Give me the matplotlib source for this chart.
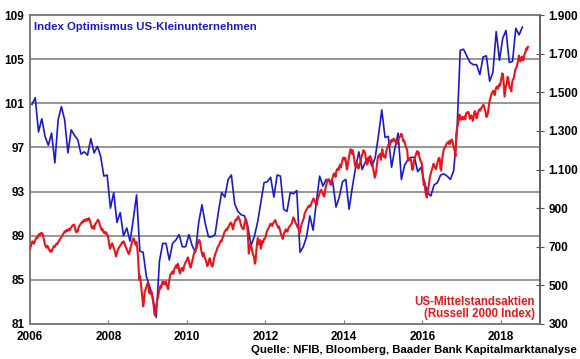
import numpy as np
import matplotlib
matplotlib.use("Agg")
import matplotlib.pyplot as plt
from matplotlib.ticker import FuncFormatter

plt.rcParams['font.family'] = ['Liberation Sans', 'DejaVu Sans']

# NFIB Index Optimismus (monthly, Jan 2006 - Jul 2018)
nfib_2006_2010 = [100.9, 101.5, 98.4, 99.6, 98.0, 97.2, 98.3, 95.6, 99.5, 100.7, 99.5, 96.5,
                  98.6, 98.1, 97.7, 96.4, 96.6, 96.3, 97.8, 96.5, 97.1, 96.2, 94.4, 94.5,
                  91.5, 92.9, 90.2, 91.1, 89.0, 89.7, 88.5, 90.5, 92.7, 87.6, 87.5, 85.3,
                  84.4, 83.4, 81.6, 86.7, 88.3, 88.3, 86.8, 88.3, 88.6, 89.1, 88.0, 88.0,
                  89.1, 88.1, 87.5, 90.2, 91.8, 90.1, 88.9, 88.9, 89.1, 91.1, 92.9, 92.5]
nfib_2011_2018 = [94.1, 94.5, 91.9, 91.2, 90.9, 90.8, 89.9, 88.1, 88.9, 90.2, 92.0, 93.8,
                  93.9, 94.3, 92.5, 94.5, 94.4, 91.4, 91.2, 92.9, 92.8, 93.1, 87.5, 88.0,
                  88.9, 90.8, 89.5, 92.1, 94.4, 93.5, 94.1, 94.0, 93.9, 91.6, 92.5, 93.9,
                  94.1, 91.4, 93.4, 95.2, 96.6, 95.0, 95.7, 96.1, 95.3, 96.1, 98.1, 100.4,
                  97.9, 98.0, 95.2, 96.9, 98.3, 94.1, 95.4, 95.9, 96.1, 96.1, 94.8, 95.2,
                  93.9, 92.9, 92.6, 93.6, 93.8, 94.5, 94.6, 94.4, 94.1, 94.9, 98.4, 105.8,
                  105.9, 105.3, 104.7, 104.5, 104.5, 103.6, 105.2, 105.3, 103.0, 103.8, 107.5, 104.9,
                  106.9, 107.6, 104.7, 104.8, 107.8, 107.2, 107.9]
nfib = nfib_2006_2010 + nfib_2011_2018

# Russell 2000 (weekly)
r2006 = [690, 702, 715, 728, 722, 716, 724, 735, 742, 750, 746, 758, 765, 760, 768, 772, 770, 762, 745, 728,
         710, 702, 695, 705, 698, 688, 680, 674, 682, 676, 690, 698, 704, 700, 710, 716, 712, 722, 728, 734,
         740, 746, 752, 760, 768, 772, 780, 776, 784, 788, 782, 790]
r2007 = [792, 786, 798, 802, 808, 812, 815, 810, 790, 776, 782, 778, 795, 805, 812, 818, 822, 830, 826, 835,
         840, 832, 838, 844, 836, 842, 848, 840, 825, 812, 796, 800, 806, 792, 812, 820, 826, 832, 840, 836,
         822, 808, 798, 786, 792, 780, 772, 778, 768, 774, 762, 760]
r2008 = [740, 712, 690, 698, 712, 718, 706, 694, 684, 668, 650, 662, 680, 688, 696, 702, 708, 714, 722, 718,
         728, 720, 708, 698, 690, 680, 670, 662, 672, 690, 705, 720, 735, 744, 738, 722, 710, 725, 700, 660,
         585, 528, 548, 510, 470, 432, 392, 415, 470, 476, 490, 500]
r2009 = [512, 498, 462, 470, 455, 468, 440, 420, 392, 350, 345, 390, 410, 428, 445, 470, 480, 498, 488, 512,
         520, 505, 515, 508, 520, 498, 492, 480, 510, 535, 555, 560, 565, 572, 560, 580, 590, 598, 605, 590,
         612, 598, 570, 562, 580, 590, 588, 575, 595, 608, 618, 625]
r2010 = [632, 645, 640, 618, 600, 592, 610, 625, 640, 660, 672, 680, 688, 695, 712, 725, 735, 730, 712, 680,
         665, 650, 668, 655, 640, 632, 615, 600, 608, 625, 640, 632, 612, 600, 598, 620, 640, 655, 668, 675,
         690, 700, 705, 712, 725, 732, 728, 745, 752, 768, 778, 783]
r2011 = [790, 785, 798, 800, 812, 818, 825, 822, 805, 790, 808, 825, 835, 842, 838, 850, 858, 848, 840, 822,
         808, 800, 795, 790, 812, 828, 845, 832, 800, 745, 665, 690, 712, 705, 690, 670, 655, 648, 612, 625,
         680, 720, 745, 712, 725, 735, 690, 705, 730, 722, 740, 740]
r2012 = [748, 765, 778, 790, 795, 802, 815, 820, 812, 808, 818, 826, 832, 838, 828, 815, 808, 798, 805, 790,
         775, 762, 752, 740, 758, 772, 780, 790, 785, 778, 788, 800, 805, 810, 815, 822, 838, 852, 845, 835,
         822, 818, 805, 810, 790, 772, 778, 800, 818, 828, 838, 849]
r2013 = [872, 880, 888, 896, 902, 910, 905, 915, 912, 925, 935, 945, 950, 940, 930, 925, 915, 940, 955, 965,
         980, 990, 995, 985, 975, 968, 960, 985, 1010, 1025, 1038, 1045, 1050, 1040, 1025, 1020, 1040, 1058, 1070, 1080,
         1075, 1062, 1090, 1100, 1105, 1098, 1115, 1125, 1110, 1130, 1145, 1160]
r2014 = [1162, 1150, 1160, 1128, 1100, 1120, 1145, 1168, 1190, 1205, 1195, 1180, 1200, 1175, 1145, 1120, 1112, 1135, 1130, 1105,
         1110, 1125, 1140, 1160, 1172, 1185, 1200, 1192, 1190, 1160, 1142, 1125, 1140, 1158, 1165, 1170, 1160, 1145, 1120, 1102,
         1080, 1058, 1070, 1095, 1130, 1160, 1172, 1168, 1180, 1150, 1185, 1205]
r2015 = [1178, 1165, 1172, 1160, 1190, 1205, 1215, 1228, 1232, 1225, 1240, 1252, 1245, 1255, 1260, 1248, 1252, 1240, 1232, 1248,
         1255, 1262, 1270, 1275, 1285, 1280, 1260, 1245, 1250, 1235, 1220, 1212, 1200, 1145, 1158, 1160, 1148, 1152, 1120, 1098,
         1110, 1145, 1160, 1172, 1185, 1195, 1180, 1190, 1165, 1155, 1140, 1136]
r2016 = [1110, 1050, 1020, 1035, 990, 968, 955, 985, 1005, 1030, 1060, 1075, 1090, 1105, 1115, 1130, 1118, 1110, 1102, 1115,
         1135, 1150, 1160, 1158, 1105, 1095, 1140, 1170, 1195, 1210, 1215, 1222, 1232, 1238, 1240, 1245, 1230, 1250, 1242, 1255,
         1248, 1225, 1212, 1195, 1168, 1285, 1315, 1330, 1350, 1385, 1375, 1357]
r2017 = [1365, 1372, 1360, 1368, 1375, 1360, 1388, 1395, 1392, 1398, 1385, 1362, 1372, 1380, 1368, 1352, 1372, 1398, 1402, 1385,
         1365, 1380, 1395, 1408, 1412, 1405, 1418, 1422, 1428, 1435, 1425, 1410, 1395, 1372, 1380, 1392, 1425, 1450, 1465, 1478,
         1495, 1502, 1508, 1498, 1485, 1510, 1525, 1530, 1518, 1528, 1540, 1535]
r2018 = [1555, 1575, 1598, 1590, 1540, 1478, 1505, 1535, 1548, 1580, 1572, 1540, 1520, 1528, 1505, 1548, 1565, 1570, 1588, 1612,
         1625, 1630, 1648, 1662, 1690, 1678, 1660, 1668, 1685, 1672, 1665, 1690, 1702, 1712, 1728, 1722, 1735]
russell_years = [r2006, r2007, r2008, r2009, r2010, r2011, r2012, r2013, r2014, r2015, r2016, r2017, r2018]

left_ticks = [81, 85, 89, 93, 97, 101, 105, 109]
right_ticks = [300, 500, 700, 900, 1100, 1300, 1500, 1700, 1900]
year_ticks = [2006, 2008, 2010, 2012, 2014, 2016, 2018]

# x positions (decimal years)
nfib_x = 2006 + (np.arange(len(nfib)) + 0.6) / 12
russell = []
russell_x = []
for i, vals in enumerate(russell_years):
    russell += vals
    russell_x += list(2006 + i + np.arange(len(vals)) / 52)

blue = '#1a1acc'
red = '#e8161b'
grey = '#7a7a7a'

fig = plt.figure(figsize=(5.8, 3.59), dpi=100)
ax = fig.add_axes([30 / 580, 1 - 324 / 359, 510 / 580, 309 / 359])
ax2 = ax.twinx()

ax.plot(nfib_x, nfib, color=blue, lw=1.2, zorder=3)
ax2.plot(russell_x, russell, color=red, lw=1.5, zorder=3)

ax.set_xlim(2006, 2019)
ax.set_ylim(81, 109)
ax2.set_ylim(300, 1900)

# grid lines at the left axis ticks
for v in left_ticks[1:-1]:
    ax.axhline(v, color=grey, lw=1.1, zorder=1)

ax.set_yticks(left_ticks)
ax.set_xticks(year_ticks)
ax2.set_yticks(right_ticks)
ax2.yaxis.set_major_formatter(FuncFormatter(lambda v, p: '{:,.0f}'.format(v).replace(',', '.')))

ax.tick_params(axis='y', length=0, pad=4, labelsize=8.5)
ax.tick_params(axis='x', direction='in', length=3, color=grey, pad=5, labelsize=8.5)
ax2.tick_params(axis='y', direction='inout', length=6, color='#555555', pad=3, labelsize=8.5)
for lab in ax.get_xticklabels() + ax.get_yticklabels() + ax2.get_yticklabels():
    lab.set_fontweight('bold')

for a in (ax, ax2):
    for s in a.spines.values():
        s.set_color(grey)
        s.set_linewidth(1.1)
ax2.spines['right'].set_color('#555555')

ax.text(0.007, 0.962, 'Index Optimismus US-Kleinunternehmen', transform=ax.transAxes,
        color=blue, fontsize=8.2, fontweight='bold', ha='left', va='center')
ax.text(0.99, 0.012, 'US-Mittelstandsaktien\n(Russell 2000 Index)', transform=ax.transAxes,
        color=red, fontsize=8.3, fontweight='bold', ha='right', va='bottom', linespacing=1.05)
fig.text(0.995, 1 - 350 / 359, 'Quelle: NFIB, Bloomberg, Baader Bank Kapitalmarktanalyse',
         fontsize=8.2, fontweight='bold', ha='right', va='center')

fig.savefig('out.png', dpi=100)
